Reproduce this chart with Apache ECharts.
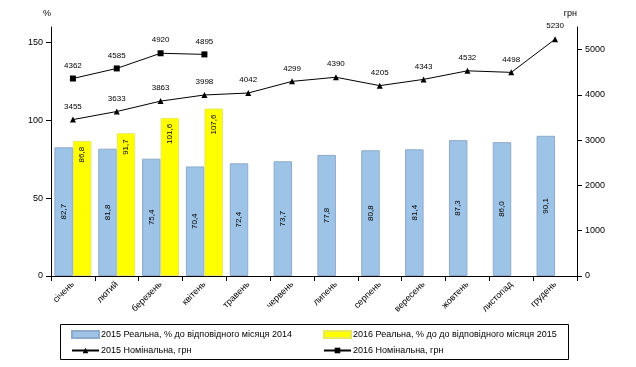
<!DOCTYPE html>
<html>
<head>
<meta charset="utf-8">
<script src="https://cdn.jsdelivr.net/npm/echarts@6/dist/echarts.min.js"></script>
<style>html,body{margin:0;padding:0;background:#fff;}#c{width:636px;height:367px;}</style>
</head>
<body>
<div id="c"></div>
<script>
const months = ['січень','лютий','березень','квітень','травень','червень','липень','серпень','вересень','жовтень','листопад','грудень'];
const real2015 = [82.7, 81.8, 75.4, 70.4, 72.4, 73.7, 77.8, 80.8, 81.4, 87.3, 86.0, 90.1];
const real2016 = [86.8, 91.7, 101.6, 107.6];
const nom2015 = [3455, 3633, 3863, 3998, 4042, 4299, 4390, 4205, 4343, 4532, 4498, 5230];
const nom2016 = [4362, 4585, 4920, 4895];
const leftTicks = [0, 50, 100, 150];
const rightTicks = [0, 1000, 2000, 3000, 4000, 5000];
const names = ['2015 Реальна, % до відповідного місяця 2014','2016 Реальна, % до до відповідного місяця 2015','2015 Номінальна, грн','2016 Номінальна, грн'];

const FONT = 'Liberation Sans';
const fmtPct = p => Number(p.value).toFixed(1).replace('.', ',');
const chart = echarts.init(document.getElementById('c'), null, {renderer: 'canvas'});
chart.setOption({
  animation: false,
  textStyle: {fontFamily: FONT},
  grid: {left: 51, right: 59, top: 27, bottom: 91, containLabel: false},
  xAxis: {
    type: 'category', data: months,
    axisLine: {lineStyle: {color: '#000', width: 1}},
    axisTick: {show: true, alignWithLabel: false, length: 5, lineStyle: {color: '#000'}},
    axisLabel: {rotate: 45, fontSize: 9, color: '#000', fontFamily: FONT, margin: 7, interval: 0}
  },
  yAxis: [{
    type: 'value', min: 0, max: 160, name: '%',
    nameLocation: 'end', nameGap: 9,
    nameTextStyle: {fontSize: 9, color: '#000', align: 'right', padding: [0, 0, 0, 0]},
    axisLine: {show: true, lineStyle: {color: '#000'}},
    axisTick: {show: true, length: 5, lineStyle: {color: '#000'}, customValues: leftTicks},
    axisLabel: {fontSize: 9, color: '#000', margin: 8, customValues: leftTicks},
    splitLine: {show: false}
  }, {
    type: 'value', min: 0, max: 5500, name: 'грн', position: 'right',
    nameLocation: 'end', nameGap: 9,
    nameTextStyle: {fontSize: 9, color: '#000', align: 'right'},
    axisLine: {show: true, lineStyle: {color: '#000'}},
    axisTick: {show: true, length: 5, lineStyle: {color: '#000'}, customValues: rightTicks},
    axisLabel: {fontSize: 9, color: '#000', margin: 8, customValues: rightTicks, formatter: v => String(v)},
    splitLine: {show: false}
  }],
  legend: [{
    orient: 'vertical', left: 66, top: 325, itemWidth: 27, itemHeight: 7, itemGap: 7,
    textStyle: {fontSize: 9, color: '#000', fontFamily: FONT, padding: [0, 0, 0, -3]},
    data: [{name: names[0], icon: 'rect'}, names[2]]
  }, {
    orient: 'vertical', left: 318, top: 325, itemWidth: 27, itemHeight: 7, itemGap: 7,
    textStyle: {fontSize: 9, color: '#000', fontFamily: FONT, padding: [0, 0, 0, -3]},
    data: [{name: names[1], icon: 'rect'}, names[3]]
  }],
  graphic: [{
    type: 'rect', left: 58, top: 322, shape: {width: 508, height: 35},
    style: {fill: 'none', stroke: '#000', lineWidth: 1}, silent: true
  }],
  series: [{
    name: names[0], type: 'bar', yAxisIndex: 0, data: real2015,
    barWidth: 18.5, barGap: '0%',
    itemStyle: {color: '#9DC3E6', borderColor: '#8DAACB', borderWidth: 1},
    label: {show: true, position: 'inside', rotate: 90, fontSize: 8, color: '#000', formatter: fmtPct}
  }, {
    name: names[1], type: 'bar', yAxisIndex: 0, data: real2016,
    barWidth: 18.5, barGap: '0%',
    itemStyle: {color: '#FFFF00', borderColor: '#E8E860', borderWidth: 1},
    label: {show: true, position: 'insideTop', distance: 6, rotate: 90, align: 'right', verticalAlign: 'middle', fontSize: 8, color: '#000', formatter: fmtPct}
  }, {
    name: names[2], type: 'line', yAxisIndex: 1, data: nom2015,
    symbol: 'triangle', symbolSize: 6,
    lineStyle: {color: '#000', width: 1}, itemStyle: {color: '#000'},
    label: {show: true, position: 'top', distance: 6, fontSize: 8, color: '#000'}
  }, {
    name: names[3], type: 'line', yAxisIndex: 1, data: nom2016,
    symbol: 'rect', symbolSize: 6,
    lineStyle: {color: '#000', width: 1}, itemStyle: {color: '#000'},
    label: {show: true, position: 'top', distance: 6, fontSize: 8, color: '#000'}
  }]
});
</script>
</body>
</html>
